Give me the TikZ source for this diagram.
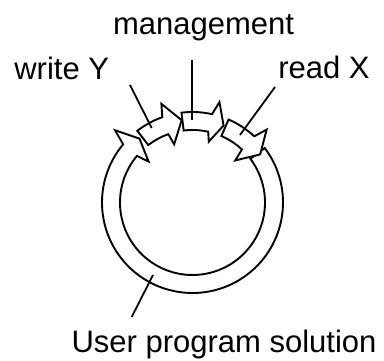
\documentclass[tikz,border=0pt]{standalone}
\usepackage{fontspec}
\setmainfont{Liberation Sans}
\begin{document}
\begin{tikzpicture}[x=1pt,y=1pt,
  seg/.style={draw=black,fill=white,line width=1.9pt,line join=miter},
  lead/.style={draw=black,line width=1.8pt},
  lbl/.style={font=\fontsize{31}{37}\selectfont,anchor=base,inner sep=0pt}]
\useasboundingbox (0,0) rectangle (384,361);
\def\Ro{90.5pt}\def\Ri{72.5pt}\def\Rt{83pt}
% #1 tail angle, #2 head base angle, #3 barb angle, #4 outer barb radius, #5 tip angle, #6 inner barb radius
\newcommand\carrow[6]{%
  \path[seg] (#1:\Ro) arc[start angle=#1,end angle=#2,radius=\Ro]
    -- (#3:#4) -- (#5:\Rt) -- (#3:#6) -- (#2:\Ri)
    arc[start angle=#2,end angle=#1,radius=\Ri] -- cycle;}
\begin{scope}[shift={(192.5,158.5)}]
  \carrow{37}{-220}{-223}{106pt}{-230.3}{60pt}
  \carrow{127.6}{109.5}{107.5}{103.5pt}{97.5}{61pt}
  \carrow{97}{77.5}{75}{104pt}{68}{63pt}
  \carrow{66.5}{47}{44.5}{104pt}{35.4}{60pt}
\end{scope}
\node[lbl] (mgmt) at (203.5,326) {management};
\node[lbl] (wy) at (61.7,281.7) {write Y};
\node[lbl] (rx) at (324,282) {read X};
\node[lbl] (ups) at (224,8) {User program solution};
\coordinate (mgmtA) at (192,301);
\coordinate (mgmtB) at (192,241);
\coordinate (wyA) at (130,276);
\coordinate (wyB) at (151.7,233);
\coordinate (rxA) at (275,274);
\coordinate (rxB) at (240,226);
\coordinate (upsA) at (131.7,44);
\coordinate (upsB) at (153,86);
\draw[lead] (mgmtA) -- (mgmtB);
\draw[lead] (wyA) -- (wyB);
\draw[lead] (rxA) -- (rxB);
\draw[lead] (upsA) -- (upsB);
\end{tikzpicture}
\end{document}
